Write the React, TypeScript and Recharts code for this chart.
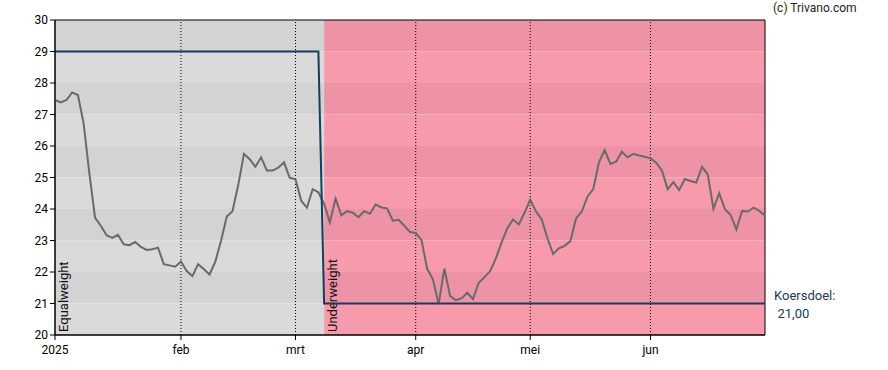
import React from 'react';
import { LineChart, Line, XAxis, YAxis, ReferenceArea, ReferenceLine } from 'recharts';

// tick labels on the time axis, one per month
const monthLabels = ['2025', 'feb', 'mrt', 'apr', 'mei', 'jun'];

// closing prices per trading day, split per month
const priceJan = [27.46, 27.38, 27.46, 27.7, 27.62, 26.72, 25.13, 23.72, 23.47, 23.17, 23.08, 23.18, 22.88, 22.85, 22.95, 22.8, 22.7, 22.72, 22.77, 22.25, 22.21, 22.17];
const priceFeb = [22.33, 22.03, 21.87, 22.25, 22.09, 21.92, 22.33, 22.99, 23.76, 23.93, 24.76, 25.75, 25.58, 25.34, 25.64, 25.22, 25.22, 25.31, 25.48, 24.99];
const priceMar = [24.94, 24.26, 24.04, 24.63, 24.53, 24.16, 23.57, 24.33, 23.8, 23.93, 23.88, 23.74, 23.93, 23.85, 24.14, 24.05, 24.02, 23.63, 23.66, 23.47, 23.27];
const priceApr = [23.24, 23.02, 22.1, 21.77, 20.98, 22.11, 21.24, 21.11, 21.16, 21.34, 21.14, 21.66, 21.83, 22.03, 22.43, 22.94, 23.39, 23.67, 23.51, 23.88];
const priceMay = [24.3, 23.92, 23.67, 23.07, 22.57, 22.75, 22.83, 22.98, 23.7, 23.92, 24.39, 24.63, 25.48, 25.87, 25.43, 25.5, 25.82, 25.64, 25.75, 25.7, 25.66];
const priceJun = [25.61, 25.47, 25.22, 24.63, 24.85, 24.6, 24.95, 24.89, 24.84, 25.34, 25.1, 24.0, 24.5, 23.99, 23.81, 23.35, 23.94, 23.92, 24.04, 23.94, 23.79];

// analyst rating periods (start = trading day index) and their price targets
const ratingLabels = ['Equalweight', 'Underweight'];
const ratingStart = [0, 47];
const targetPrice = [29, 21];

const yTicks = [20, 21, 22, 23, 24, 25, 26, 27, 28, 29, 30];

const priceByMonth = [priceJan, priceFeb, priceMar, priceApr, priceMay, priceJun];
const prices = priceByMonth.flat();
const lastIndex = prices.length - 1;
const monthTicks = priceByMonth.map((_, m) =>
  priceByMonth.slice(0, m).reduce((sum, arr) => sum + arr.length, 0)
);

const ratingAt = (i: number) => {
  let r = 0;
  ratingStart.forEach((s, k) => {
    if (i >= s) r = k;
  });
  return r;
};

const data = prices.map((price, i) => ({ i, price, target: targetPrice[ratingAt(i)] }));

// band colours per rating: [dark, light]
const BANDS = [
  ['#d3d3d3', '#dadada'],
  ['#ee93a5', '#f69aac'],
];
const FONT = 'Roboto, "Liberation Sans", Arial, sans-serif';

const RatingLabel = (props: any) => {
  const { viewBox, text } = props;
  if (!viewBox) return null;
  const x = viewBox.x + 13;
  const y = viewBox.y + viewBox.height - 3;
  return (
    <text x={x} y={y} transform={`rotate(-90 ${x} ${y})`} fontSize={13} fill="#111" fontFamily={FONT}>
      {text}
    </text>
  );
};

const TargetLabel = (props: any) => {
  const { viewBox, value } = props;
  if (!viewBox) return null;
  const x = viewBox.x + viewBox.width + 9;
  const y = viewBox.y;
  return (
    <g fontFamily={FONT} fontSize={13} fill="#1b3a5a">
      <text x={x} y={y - 3.5}>Koersdoel:</text>
      <text x={x + 3.5} y={y + 14}>{value.toFixed(2).replace('.', ',')}</text>
    </g>
  );
};

export default function App() {
  const bandYs = yTicks.slice(0, -1);
  return (
    <div style={{ position: 'absolute', left: 0, top: 0, width: 888, height: 370, background: '#fff' }}>
      <div
        style={{
          position: 'absolute',
          left: 773,
          top: 1,
          fontFamily: FONT,
          fontSize: 12,
          lineHeight: '14px',
          color: '#222',
        }}
      >
        (c) Trivano.com
      </div>
      <LineChart width={888} height={370} data={data} margin={{ top: 20, right: 123, bottom: 0, left: 0 }}>
        <XAxis
          dataKey="i"
          type="number"
          domain={[0, lastIndex]}
          ticks={monthTicks}
          tickFormatter={(v: number) => monthLabels[monthTicks.indexOf(v)]}
          interval={0}
          height={35}
          tickSize={5}
          tickMargin={5}
          stroke="#000"
          tick={{ fill: '#000', fontSize: 12, fontFamily: FONT }}
        />
        <YAxis
          type="number"
          domain={[20, 30]}
          ticks={yTicks}
          interval={0}
          width={55}
          tickSize={5}
          tickMargin={2}
          stroke="#000"
          tick={{ fill: '#000', fontSize: 12, fontFamily: FONT }}
        />
        {ratingStart.map((start, r) =>
          bandYs.map((k) => (
            <ReferenceArea
              key={`band-${r}-${k}`}
              x1={start}
              x2={ratingStart[r + 1] ?? lastIndex}
              y1={k}
              y2={k + 1}
              fill={BANDS[r][k % 2 === 1 ? 0 : 1]}
              fillOpacity={1}
              stroke="none"
            />
          ))
        )}
        {ratingStart.map((start, r) => (
          <ReferenceArea
            key={`label-${r}`}
            x1={start}
            x2={ratingStart[r + 1] ?? lastIndex}
            y1={20}
            y2={30}
            fill="none"
            stroke="none"
            label={<RatingLabel text={ratingLabels[r]} />}
          />
        ))}
        {monthTicks.slice(1).map((t) => (
          <ReferenceLine key={`m-${t}`} x={t} stroke="#000" strokeWidth={1} strokeDasharray="1 2" />
        ))}
        <ReferenceArea x1={0} x2={lastIndex} y1={20} y2={30} fill="none" stroke="#000" strokeWidth={1} />
        <ReferenceLine
          y={targetPrice[targetPrice.length - 1]}
          stroke="none"
          label={<TargetLabel value={targetPrice[targetPrice.length - 1]} />}
        />
        <Line
          type="linear"
          dataKey="price"
          stroke="#6a6a6a"
          strokeWidth={2}
          dot={false}
          isAnimationActive={false}
        />
        <Line
          type="linear"
          dataKey="target"
          stroke="#173d5e"
          strokeWidth={2}
          dot={false}
          isAnimationActive={false}
        />
      </LineChart>
    </div>
  );
}
